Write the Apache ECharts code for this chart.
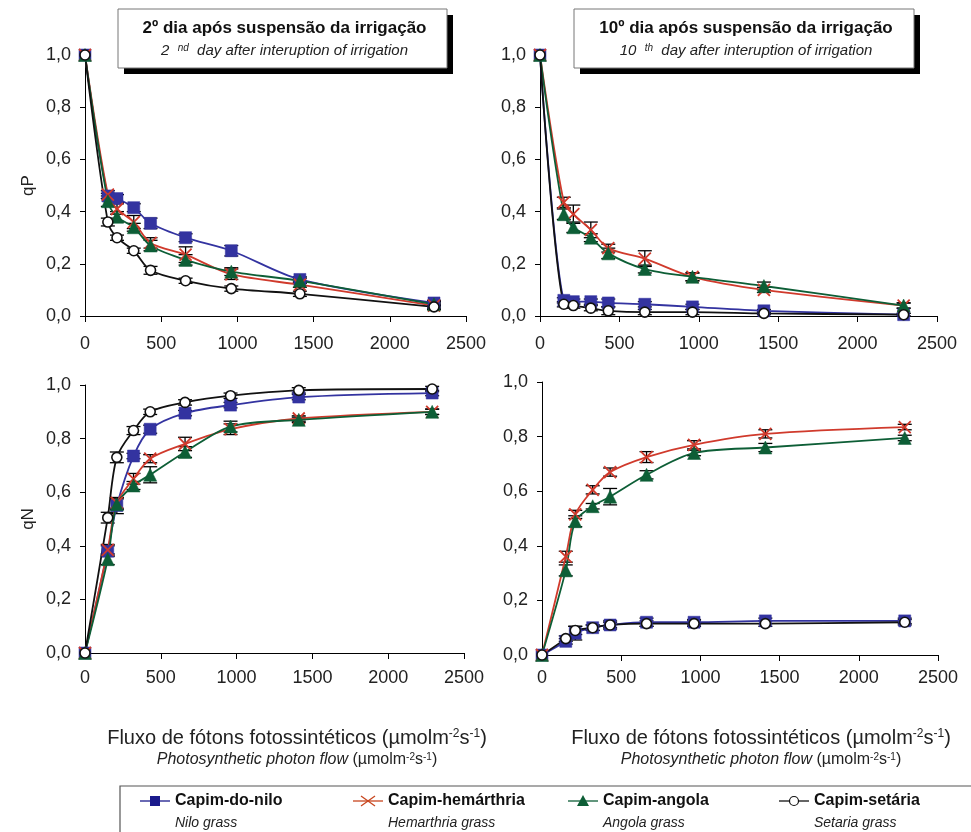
<!DOCTYPE html>
<html>
<head>
<meta charset="utf-8">
<script src="https://cdn.jsdelivr.net/npm/echarts@6/dist/echarts.min.js"></script>
<style>html,body{margin:0;padding:0;background:#fff;}#c{width:971px;height:832px;}</style>
</head>
<body>
<div id="c"></div>
<script>
// ---- data ----
const ppfd = [0, 150, 210, 320, 430, 660, 960, 1410, 2290];
const xTicks = [0, 500, 1000, 1500, 2000, 2500];
const yTicks = [0, 0.2, 0.4, 0.6, 0.8, 1.0];
const seriesNames = ['Capim-do-nilo', 'Capim-hemárthria', 'Capim-angola', 'Capim-setária'];
const seriesNamesEn = ['Nilo grass', 'Hemarthria grass', 'Angola grass', 'Setaria grass'];

// qP, 2nd day
const qP2_nilo = [1.0, 0.46, 0.45, 0.415, 0.355, 0.30, 0.25, 0.14, 0.05];
const qP2_hem  = [1.0, 0.465, 0.41, 0.36, 0.28, 0.235, 0.16, 0.12, 0.04];
const qP2_ang  = [1.0, 0.44, 0.38, 0.34, 0.27, 0.215, 0.17, 0.135, 0.045];
const qP2_set  = [1.0, 0.36, 0.30, 0.25, 0.175, 0.135, 0.105, 0.085, 0.035];
// qP, 10th day
const qP10_nilo = [1.0, 0.06, 0.055, 0.055, 0.05, 0.045, 0.035, 0.02, 0.005];
const qP10_hem  = [1.0, 0.435, 0.39, 0.33, 0.26, 0.22, 0.15, 0.10, 0.04];
const qP10_ang  = [1.0, 0.39, 0.34, 0.30, 0.24, 0.18, 0.15, 0.115, 0.04];
const qP10_set  = [1.0, 0.045, 0.04, 0.03, 0.02, 0.015, 0.015, 0.01, 0.005];
// qN, 2nd day
const qN2_nilo = [0, 0.38, 0.55, 0.735, 0.835, 0.895, 0.925, 0.955, 0.97];
const qN2_hem  = [0, 0.385, 0.56, 0.65, 0.725, 0.78, 0.835, 0.875, 0.90];
const qN2_ang  = [0, 0.35, 0.555, 0.625, 0.665, 0.75, 0.845, 0.87, 0.90];
const qN2_set  = [0, 0.505, 0.73, 0.83, 0.90, 0.935, 0.96, 0.98, 0.985];
// qN, 10th day
const qN10_nilo = [0, 0.05, 0.08, 0.10, 0.11, 0.12, 0.12, 0.125, 0.125];
const qN10_hem  = [0, 0.36, 0.515, 0.605, 0.67, 0.725, 0.77, 0.81, 0.835];
const qN10_ang  = [0, 0.31, 0.49, 0.545, 0.58, 0.66, 0.74, 0.76, 0.795];
const qN10_set  = [0, 0.06, 0.09, 0.10, 0.11, 0.115, 0.115, 0.115, 0.12];

// error bars (±)
const eP2_nilo = [0, 0.01, 0.015, 0.015, 0.02, 0.015, 0.02, 0.01, 0.01];
const eP2_hem  = [0, 0.015, 0.02, 0.025, 0.02, 0.03, 0.02, 0.01, 0.01];
const eP2_ang  = [0, 0.02, 0.02, 0.015, 0.02, 0.02, 0.015, 0.01, 0.01];
const eP2_set  = [0, 0.015, 0.01, 0.01, 0.015, 0.01, 0.01, 0.01, 0.01];
const eP10_nilo = [0, 0.01, 0.01, 0.01, 0.015, 0.01, 0.01, 0.005, 0.005];
const eP10_hem  = [0, 0.02, 0.035, 0.03, 0.015, 0.03, 0.015, 0.01, 0.01];
const eP10_ang  = [0, 0.02, 0.02, 0.015, 0.02, 0.015, 0.015, 0.015, 0.01];
const eP10_set  = [0, 0.01, 0.01, 0.01, 0.015, 0.01, 0.01, 0.005, 0.005];
const eN2_nilo = [0, 0.02, 0.03, 0.01, 0.015, 0.01, 0.01, 0.01, 0.01];
const eN2_hem  = [0, 0.02, 0.02, 0.02, 0.015, 0.025, 0.02, 0.01, 0.01];
const eN2_ang  = [0, 0.02, 0.02, 0.015, 0.03, 0.02, 0.02, 0.01, 0.01];
const eN2_set  = [0, 0.02, 0.02, 0.015, 0.01, 0.01, 0.01, 0.01, 0.01];
const eN10_nilo = [0, 0.01, 0.025, 0.01, 0.015, 0.015, 0.01, 0.01, 0.01];
const eN10_hem  = [0, 0.02, 0.015, 0.015, 0.015, 0.02, 0.015, 0.015, 0.01];
const eN10_ang  = [0, 0.02, 0.02, 0.01, 0.03, 0.015, 0.01, 0.015, 0.01];
const eN10_set  = [0, 0.01, 0.015, 0.01, 0.01, 0.01, 0.01, 0.01, 0.01];

// ---- styling ----
const FONT = '"Liberation Sans", Arial, sans-serif';
const COLORS = ['#3333a0', '#d03a2c', '#0d5e36', '#111111'];
const CROSS = 'path://M0,0L10,10M10,0L0,10';
const SYMBOLS = ['rect', CROSS, 'triangle', 'circle'];
const SIZES = [12, 12, 13, 10];

const panels = [
  {vals: [qP2_nilo, qP2_hem, qP2_ang, qP2_set], errs: [eP2_nilo, eP2_hem, eP2_ang, eP2_set],
   grid: {left: 85, top: 55, width: 381, height: 261}, yname: 'qP', labMargin: 19},
  {vals: [qP10_nilo, qP10_hem, qP10_ang, qP10_set], errs: [eP10_nilo, eP10_hem, eP10_ang, eP10_set],
   grid: {left: 540, top: 55, width: 397, height: 261}, yname: '', labMargin: 19},
  {vals: [qN2_nilo, qN2_hem, qN2_ang, qN2_set], errs: [eN2_nilo, eN2_hem, eN2_ang, eN2_set],
   grid: {left: 85, top: 385, width: 379, height: 268}, yname: 'qN', labMargin: 16},
  {vals: [qN10_nilo, qN10_hem, qN10_ang, qN10_set], errs: [eN10_nilo, eN10_hem, eN10_ang, eN10_set],
   grid: {left: 542, top: 382, width: 396, height: 273}, yname: '', labMargin: 14}
];

const grids = [], xAxes = [], yAxes = [], series = [];
panels.forEach((p, gi) => {
  grids.push(p.grid);
  xAxes.push({
    type: 'value', gridIndex: gi, min: xTicks[0], max: xTicks[xTicks.length - 1],
    interval: xTicks[1] - xTicks[0],
    axisLine: {show: true, lineStyle: {color: '#000', width: 1}},
    axisTick: {show: true, inside: false, length: 6, lineStyle: {color: '#000'}},
    axisLabel: {fontSize: 18, color: '#222', fontFamily: FONT, margin: p.labMargin,
      formatter: v => String(v)},
    splitLine: {show: false}
  });
  yAxes.push({
    type: 'value', gridIndex: gi, min: yTicks[0], max: yTicks[yTicks.length - 1],
    interval: yTicks[1] - yTicks[0],
    name: p.yname, nameLocation: 'middle', nameGap: 48, nameRotate: 90,
    nameTextStyle: {fontSize: 17, color: '#222', fontFamily: FONT},
    axisLine: {show: true, lineStyle: {color: '#000', width: 1}},
    axisTick: {show: true, inside: false, length: 5, lineStyle: {color: '#000'}},
    axisLabel: {fontSize: 18, color: '#222', fontFamily: FONT, margin: 14,
      formatter: v => v.toFixed(1).replace('.', ',')},
    splitLine: {show: false}
  });
  p.vals.forEach((vals, si) => {
    const errs = p.errs[si];
    series.push({
      type: 'custom', xAxisIndex: gi, yAxisIndex: gi, z: 3, silent: true,
      data: ppfd.map((x, i) => [x, vals[i], errs[i]]),
      renderItem: (params, api) => {
        const x = api.value(0), y = api.value(1), e = api.value(2);
        if (!e) return null;
        const top = api.coord([x, y + e]);
        const bot = api.coord([x, y - e]);
        const w = 7;
        const st = {stroke: '#000', lineWidth: 1.3};
        return {type: 'group', children: [
          {type: 'line', shape: {x1: top[0], y1: top[1], x2: bot[0], y2: bot[1]}, style: st},
          {type: 'line', shape: {x1: top[0] - w, y1: top[1], x2: top[0] + w, y2: top[1]}, style: st},
          {type: 'line', shape: {x1: bot[0] - w, y1: bot[1], x2: bot[0] + w, y2: bot[1]}, style: st}
        ]};
      }
    });
    const isCircle = si === 3, isCross = si === 1;
    series.push({
      type: 'line', name: seriesNames[si], xAxisIndex: gi, yAxisIndex: gi, z: 4,
      data: ppfd.map((x, i) => [x, vals[i]]),
      smooth: 0.3,
      symbol: SYMBOLS[si], symbolSize: SIZES[si], showSymbol: true,
      lineStyle: {color: COLORS[si], width: 1.8},
      itemStyle: isCircle ? {color: '#ffffff', borderColor: '#111', borderWidth: 1.6}
        : isCross ? {color: COLORS[si], borderColor: COLORS[si], borderWidth: 1.8}
        : {color: COLORS[si], borderColor: COLORS[si], borderWidth: 0.5},
      emphasis: {disabled: true}, animation: false
    });
  });
});

// ---- graphic texts / legend ----
const sup = {fontSize: 10, verticalAlign: 'top', fontFamily: FONT, fill: '#222'};
function titleBox(x, y, w, h, bold, num, ord) {
  return [
    {type: 'rect', shape: {x: x + 6, y: y + 6, width: w, height: h}, style: {fill: '#000'}},
    {type: 'rect', shape: {x: x, y: y, width: w, height: h}, style: {fill: '#fff', stroke: '#777', lineWidth: 1}},
    {type: 'text', x: x + w / 2 + 2, y: y + 19, style: {text: bold, fontSize: 17, fontWeight: 'bold',
      fontFamily: FONT, fill: '#111', align: 'center', verticalAlign: 'middle'}},
    {type: 'text', x: x + w / 2 + 2, y: y + 42, style: {
      text: '{n|' + num + '  }{s|' + ord + '}{n|  day after interuption of irrigation}',
      align: 'center', verticalAlign: 'middle',
      rich: {n: {fontSize: 15, fontStyle: 'italic', fontFamily: FONT, fill: '#222'},
             s: {fontSize: 10, fontStyle: 'italic', verticalAlign: 'top', fontFamily: FONT, fill: '#222'}}}}
  ];
}
function axisTitle(cx) {
  return [
    {type: 'text', x: cx, y: 738, style: {
      text: '{a|Fluxo de fótons fotossintéticos (µmolm}{s|-2}{a|s}{s|-1}{a|)}',
      align: 'center', verticalAlign: 'middle',
      rich: {a: {fontSize: 20, fontFamily: FONT, fill: '#222'}, s: Object.assign({}, sup, {fontSize: 12})}}},
    {type: 'text', x: cx, y: 760, style: {
      text: '{i|Photosynthetic photon flow}{a| (µmolm}{s|-2}{a|s}{s|-1}{a|)}',
      align: 'center', verticalAlign: 'middle',
      rich: {i: {fontSize: 16, fontStyle: 'italic', fontFamily: FONT, fill: '#222'},
             a: {fontSize: 16, fontFamily: FONT, fill: '#222'}, s: Object.assign({}, sup, {fontSize: 10})}}}
  ];
}
function legendIcon(si, cx, cy) {
  const c = COLORS[si];
  if (si === 0) return {type: 'rect', shape: {x: cx - 5, y: cy - 5, width: 10, height: 10}, style: {fill: '#1a1a8c'}};
  if (si === 1) return {type: 'group', children: [
    {type: 'line', shape: {x1: cx - 7, y1: cy - 5, x2: cx + 7, y2: cy + 5}, style: {stroke: '#c8451e', lineWidth: 1.3}},
    {type: 'line', shape: {x1: cx - 7, y1: cy + 5, x2: cx + 7, y2: cy - 5}, style: {stroke: '#c8451e', lineWidth: 1.3}}]};
  if (si === 2) return {type: 'polygon', shape: {points: [[cx, cy - 6], [cx + 6, cy + 5], [cx - 6, cy + 5]]}, style: {fill: c}};
  return {type: 'circle', shape: {cx: cx, cy: cy, r: 4.5}, style: {fill: '#fff', stroke: '#111', lineWidth: 1.2}};
}
const legendX = [140, 353, 568, 779];
const legendLineColors = ['#1a1a8c', '#c8451e', COLORS[2], '#111'];
const legendEls = [{type: 'rect', shape: {x: 120, y: 786, width: 900, height: 70}, style: {fill: 'none', stroke: '#555', lineWidth: 1.2}}];
seriesNames.forEach((nm, si) => {
  const x0 = legendX[si], y0 = 801;
  legendEls.push({type: 'line', shape: {x1: x0, y1: y0, x2: x0 + 30, y2: y0}, style: {stroke: legendLineColors[si], lineWidth: 1.3}});
  legendEls.push(legendIcon(si, x0 + 15, y0));
  legendEls.push({type: 'text', x: x0 + 35, y: y0, style: {text: nm, fontSize: 16, fontWeight: 'bold',
    fontFamily: FONT, fill: '#111', align: 'left', verticalAlign: 'middle'}});
  legendEls.push({type: 'text', x: x0 + 35, y: 823, style: {text: seriesNamesEn[si], fontSize: 14, fontStyle: 'italic',
    fontFamily: FONT, fill: '#222', align: 'left', verticalAlign: 'middle'}});
});

const graphic = [].concat(
  titleBox(118, 9, 329, 59, '2º dia após suspensão da irrigação', '2', 'nd'),
  titleBox(574, 9, 340, 59, '10º dia após suspensão da irrigação', '10', 'th'),
  axisTitle(297), axisTitle(761), legendEls
);

const chart = echarts.init(document.getElementById('c'), null, {renderer: 'canvas'});
chart.setOption({
  animation: false,
  backgroundColor: '#fff',
  grid: grids, xAxis: xAxes, yAxis: yAxes, series: series,
  graphic: graphic
});
</script>
</body>
</html>
